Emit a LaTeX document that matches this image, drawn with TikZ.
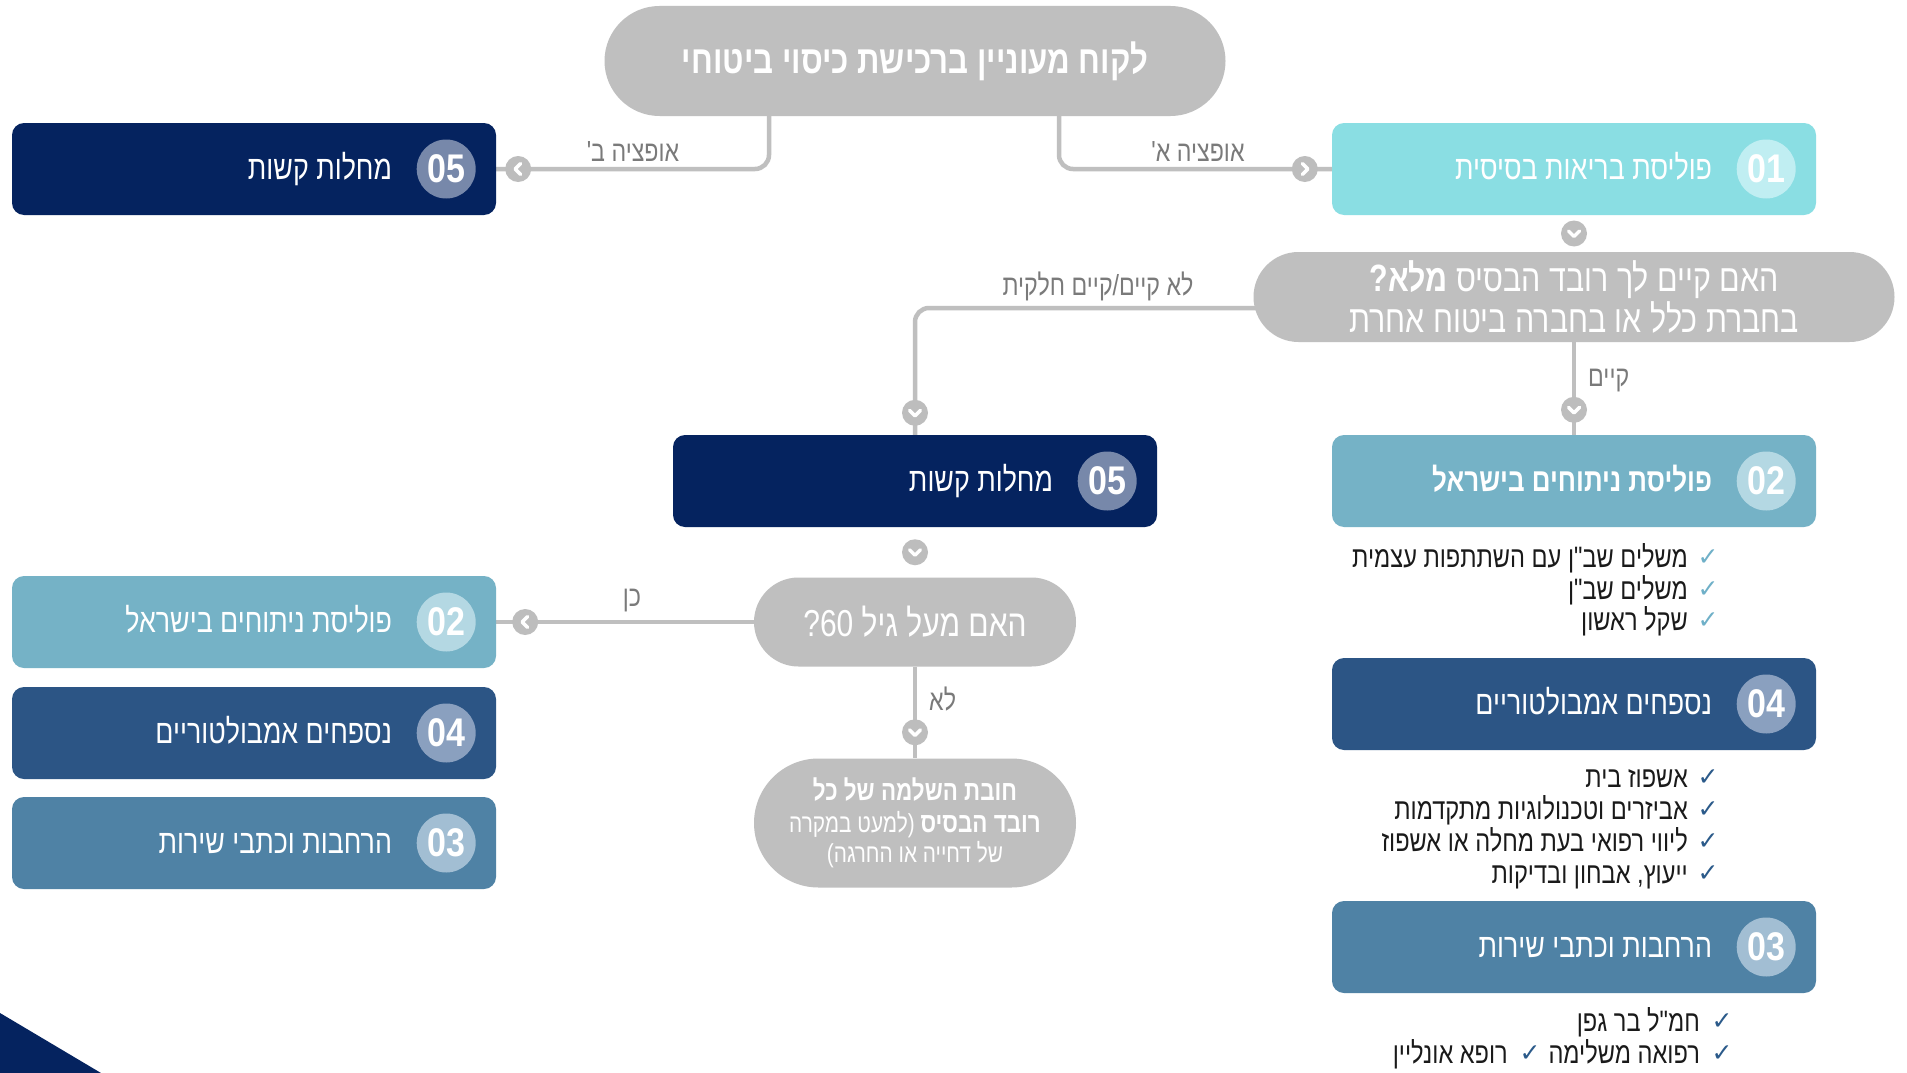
\documentclass[tikz,border=0pt]{standalone}
\usepackage{fontspec}
\usetikzlibrary{shapes.misc,calc}
\TeXXeTstate=1
\newfontfamily\heb[Script=Hebrew,FakeStretch=0.8]{Liberation Sans}
\newfontfamily\numf[FakeStretch=0.85]{Liberation Sans}
\newfontfamily\symf{DejaVu Sans}
\definecolor{navyA}{HTML}{05235F}
\definecolor{blueB}{HTML}{2C5585}
\definecolor{steelC}{HTML}{4F82A5}
\definecolor{tealD}{HTML}{75B2C6}
\definecolor{cyanE}{HTML}{8ADEE3}
\definecolor{cNavy}{HTML}{7788AA}
\definecolor{cBlue}{HTML}{8AA0BF}
\definecolor{cSteel}{HTML}{A2BED3}
\definecolor{cTeal}{HTML}{B4D8E3}
\definecolor{cCyan}{HTML}{C0EEF2}
\definecolor{pillgray}{HTML}{BFBFBF}
\definecolor{conngray}{HTML}{BFBFBF}
\definecolor{chevgray}{HTML}{BDBDBD}
\definecolor{lblgray}{HTML}{7A7A7A}
\definecolor{bultext}{HTML}{1A1A1A}
\definecolor{chkTeal}{HTML}{6FB0C8}
\definecolor{chkBlue}{HTML}{2B5A8A}
\pgfdeclarelayer{bg}
\pgfsetlayers{bg,main}
\tikzset{
  pill/.style={rounded rectangle, fill=pillgray, inner sep=0pt, text=white, align=center},
  box/.style={rectangle, rounded corners=12pt, minimum width=484pt, minimum height=92pt, inner sep=0pt},
  numc/.style={circle, minimum size=59pt, inner sep=0pt, text=white, font=\numf\bfseries\fontsize{40}{40}\selectfont},
  blabel/.style={anchor=base east, text=white, inner sep=0pt, font=\heb\fontsize{33.5}{38}\selectfont},
  conn/.style={draw=conngray, line width=4.5pt, rounded corners=14pt},
  lbl/.style={text=lblgray, inner sep=0pt, font=\heb\fontsize{29}{30}\selectfont},
  bul/.style={anchor=base east, inner sep=0pt, text=bultext, font=\heb\fontsize{29.5}{32}\selectfont},
  chk/.style={inner sep=0pt, font=\symf\fontsize{25}{25}\selectfont},
  pics/chevD/.style={code={\fill[chevgray] (0,0) circle[radius=13pt];
    \draw[white,line width=3.5pt,line cap=round,line join=round] (-5.5,-2.5)--(0,3)--(5.5,-2.5);}},
  pics/chevL/.style={code={\fill[chevgray] (0,0) circle[radius=13pt];
    \draw[white,line width=3.5pt,line cap=round,line join=round] (2.5,-5.5)--(-3,0)--(2.5,5.5);}},
  pics/chevR/.style={code={\fill[chevgray] (0,0) circle[radius=13pt];
    \draw[white,line width=3.5pt,line cap=round,line join=round] (-2.5,-5.5)--(3,0)--(-2.5,5.5);}},
}
\newcommand\mkbox[6]{%
  \node[box, fill=#3] (#1) at (#2) {};
  \node[numc, fill=#4] (#1n) at ($(#1.east)+(-50,0)$) {#5};
  \node[blabel] (#1t) at ($(#1.east)+(-104,10)$) {#6};
}
\begin{document}
\begin{tikzpicture}[x=1pt,y=-1pt]
\useasboundingbox (0,0) rectangle (1907,1073);

% pills
\node[pill, minimum width=621pt, minimum height=110pt, font=\heb\bfseries\fontsize{39}{44}\selectfont] (top) at (915,61)
  {\beginR לקוח מעוניין ברכישת כיסוי ביטוחי\endR};
\node[pill, minimum width=641pt, minimum height=90pt, font=\heb\fontsize{38}{41}\selectfont] (q1) at (1574,297)
  {\beginR האם קיים לך רובד הבסיס {\bfseries מלא\hbox{?}}\endR\\\beginR בחברת כלל או בחברה ביטוח אחרת\endR};
\node[pill, minimum width=322pt, minimum height=89pt, font=\heb\fontsize{37.5}{40}\selectfont] (q2) at (915,622)
  {\beginR האם מעל גיל \beginL60\endL\hbox{?}\endR};
\node[pill, minimum width=322pt, minimum height=129pt, font=\heb\fontsize{26}{30}\selectfont] (q3) at (915,823)
  {\beginR{\bfseries\fontsize{28}{30}\selectfont חובת השלמה של כל}\endR\\[2pt]
   \beginR{\bfseries\fontsize{28}{30}\selectfont רובד הבסיס} \hbox{(}למעט במקרה\endR\\[0pt]
   \beginR של דחייה או החרגה\hbox{)}\endR};

% boxes
\mkbox{bA}{254,169}{navyA}{cNavy}{05}{\beginR מחלות קשות\endR}
\mkbox{bB}{1574,169}{cyanE}{cCyan}{01}{\beginR פוליסת בריאות בסיסית\endR}
\node[box, fill=tealD] (bC) at (1574,481) {};
\node[numc, fill=cTeal] (bCn) at ($(bC.east)+(-50,0)$) {02};
\node[blabel, font=\heb\bfseries\fontsize{32.5}{38}\selectfont] (bCt) at ($(bC.east)+(-104,10)$) {\beginR פוליסת ניתוחים בישראל\endR};
\mkbox{bD}{915,481}{navyA}{cNavy}{05}{\beginR מחלות קשות\endR}
\mkbox{bE}{254,622}{tealD}{cTeal}{02}{\beginR פוליסת ניתוחים בישראל\endR}
\mkbox{bF}{254,733}{blueB}{cBlue}{04}{\beginR נספחים אמבולטוריים\endR}
\mkbox{bG}{254,843}{steelC}{cSteel}{03}{\beginR הרחבות וכתבי שירות\endR}
\mkbox{bH}{1574,704}{blueB}{cBlue}{04}{\beginR נספחים אמבולטוריים\endR}
\mkbox{bI}{1574,947}{steelC}{cSteel}{03}{\beginR הרחבות וכתבי שירות\endR}

% connectors (behind nodes)
\begin{pgfonlayer}{bg}
\fill[white] (0,0) rectangle (1907,1073);
\fill[navyA] (0,1013) -- (101,1073) -- (0,1073) -- cycle;
\draw[conn] ([xshift=-146pt]top.south) |- (bA.east);
\draw[conn] ([xshift=144pt]top.south) |- (bB.west);
\draw[conn] ([xshift=10pt,yshift=-11pt]q1.west) -| (bD.north);
\draw[conn] (q1.south) -- (bC.north);
\draw[conn] (q2.west) -- (bE.east);
\draw[conn] (q2.south) -- (q3.north);
\end{pgfonlayer}
\pic at ($(bA.east)+(22,0)$) {chevL};
\pic at ($(bB.west)+(-27,0)$) {chevR};
\pic at ($(bB.south)!0.5!(q1.north)$) {chevD};
\pic at ($(bD.north)+(0,-22)$) {chevD};
\pic at ($(bC.north)+(0,-25)$) {chevD};
\pic at ($(bD.south)!0.5!(q2.north)$) {chevD};
\pic at ($(bE.east)+(29,0)$) {chevL};
\pic at ($(q3.north)+(0,-26)$) {chevD};

% connector labels
\node[lbl] (lB) at (633,152) {\beginR אופציה ב\hbox{'}\endR};
\node[lbl] (lA) at (1198,152) {\beginR אופציה א\hbox{'}\endR};
\node[lbl] (lNo1) at (1098,286) {\beginR לא קיים/קיים חלקית\endR};
\node[lbl, anchor=west] (lYes1) at (1588,381) {\beginR קיים\endR};
\node[lbl] (lYes2) at (632,601) {\beginR כן\endR};
\node[lbl, anchor=west] (lNo2) at (929,699) {\beginR לא\endR};

% bullet lists
\node[chk, text=chkTeal] (c21) at (1708,558) {✓};
\node[bul] (t21) at (1688,567) {\beginR משלים שב"ן עם השתתפות עצמית\endR};
\node[chk, text=chkTeal] (c22) at (1708,590) {✓};
\node[bul] (t22) at (1688,599) {\beginR משלים שב"ן\endR};
\node[chk, text=chkTeal] (c23) at (1708,621) {✓};
\node[bul] (t23) at (1688,630) {\beginR שקל ראשון\endR};
\node[chk, text=chkBlue] (c41) at (1708,778) {✓};
\node[bul] (t41) at (1688,787) {\beginR אשפוז בית\endR};
\node[chk, text=chkBlue] (c42) at (1708,810) {✓};
\node[bul] (t42) at (1688,819) {\beginR אביזרים וטכנולוגיות מתקדמות\endR};
\node[chk, text=chkBlue] (c43) at (1708,842) {✓};
\node[bul] (t43) at (1688,851) {\beginR ליווי רפואי בעת מחלה או אשפוז\endR};
\node[chk, text=chkBlue] (c44) at (1708,874) {✓};
\node[bul] (t44) at (1688,883) {\beginR ייעוץ\hbox{,} אבחון ובדיקות\endR};
\node[chk, text=chkBlue] (c31) at (1722,1022) {✓};
\node[bul] (t31) at (1700,1031) {\beginR חמ"ל בר גפן\endR};
\node[chk, text=chkBlue] (c32) at (1722,1054) {✓};
\node[bul] (t32) at (1700,1063) {\beginR רפואה משלימה\endR};
\node[chk, text=chkBlue] (c33) at (1530,1054) {✓};
\node[bul] (t33) at (1508,1063) {\beginR רופא אונליין\endR};
\end{tikzpicture}
\end{document}
